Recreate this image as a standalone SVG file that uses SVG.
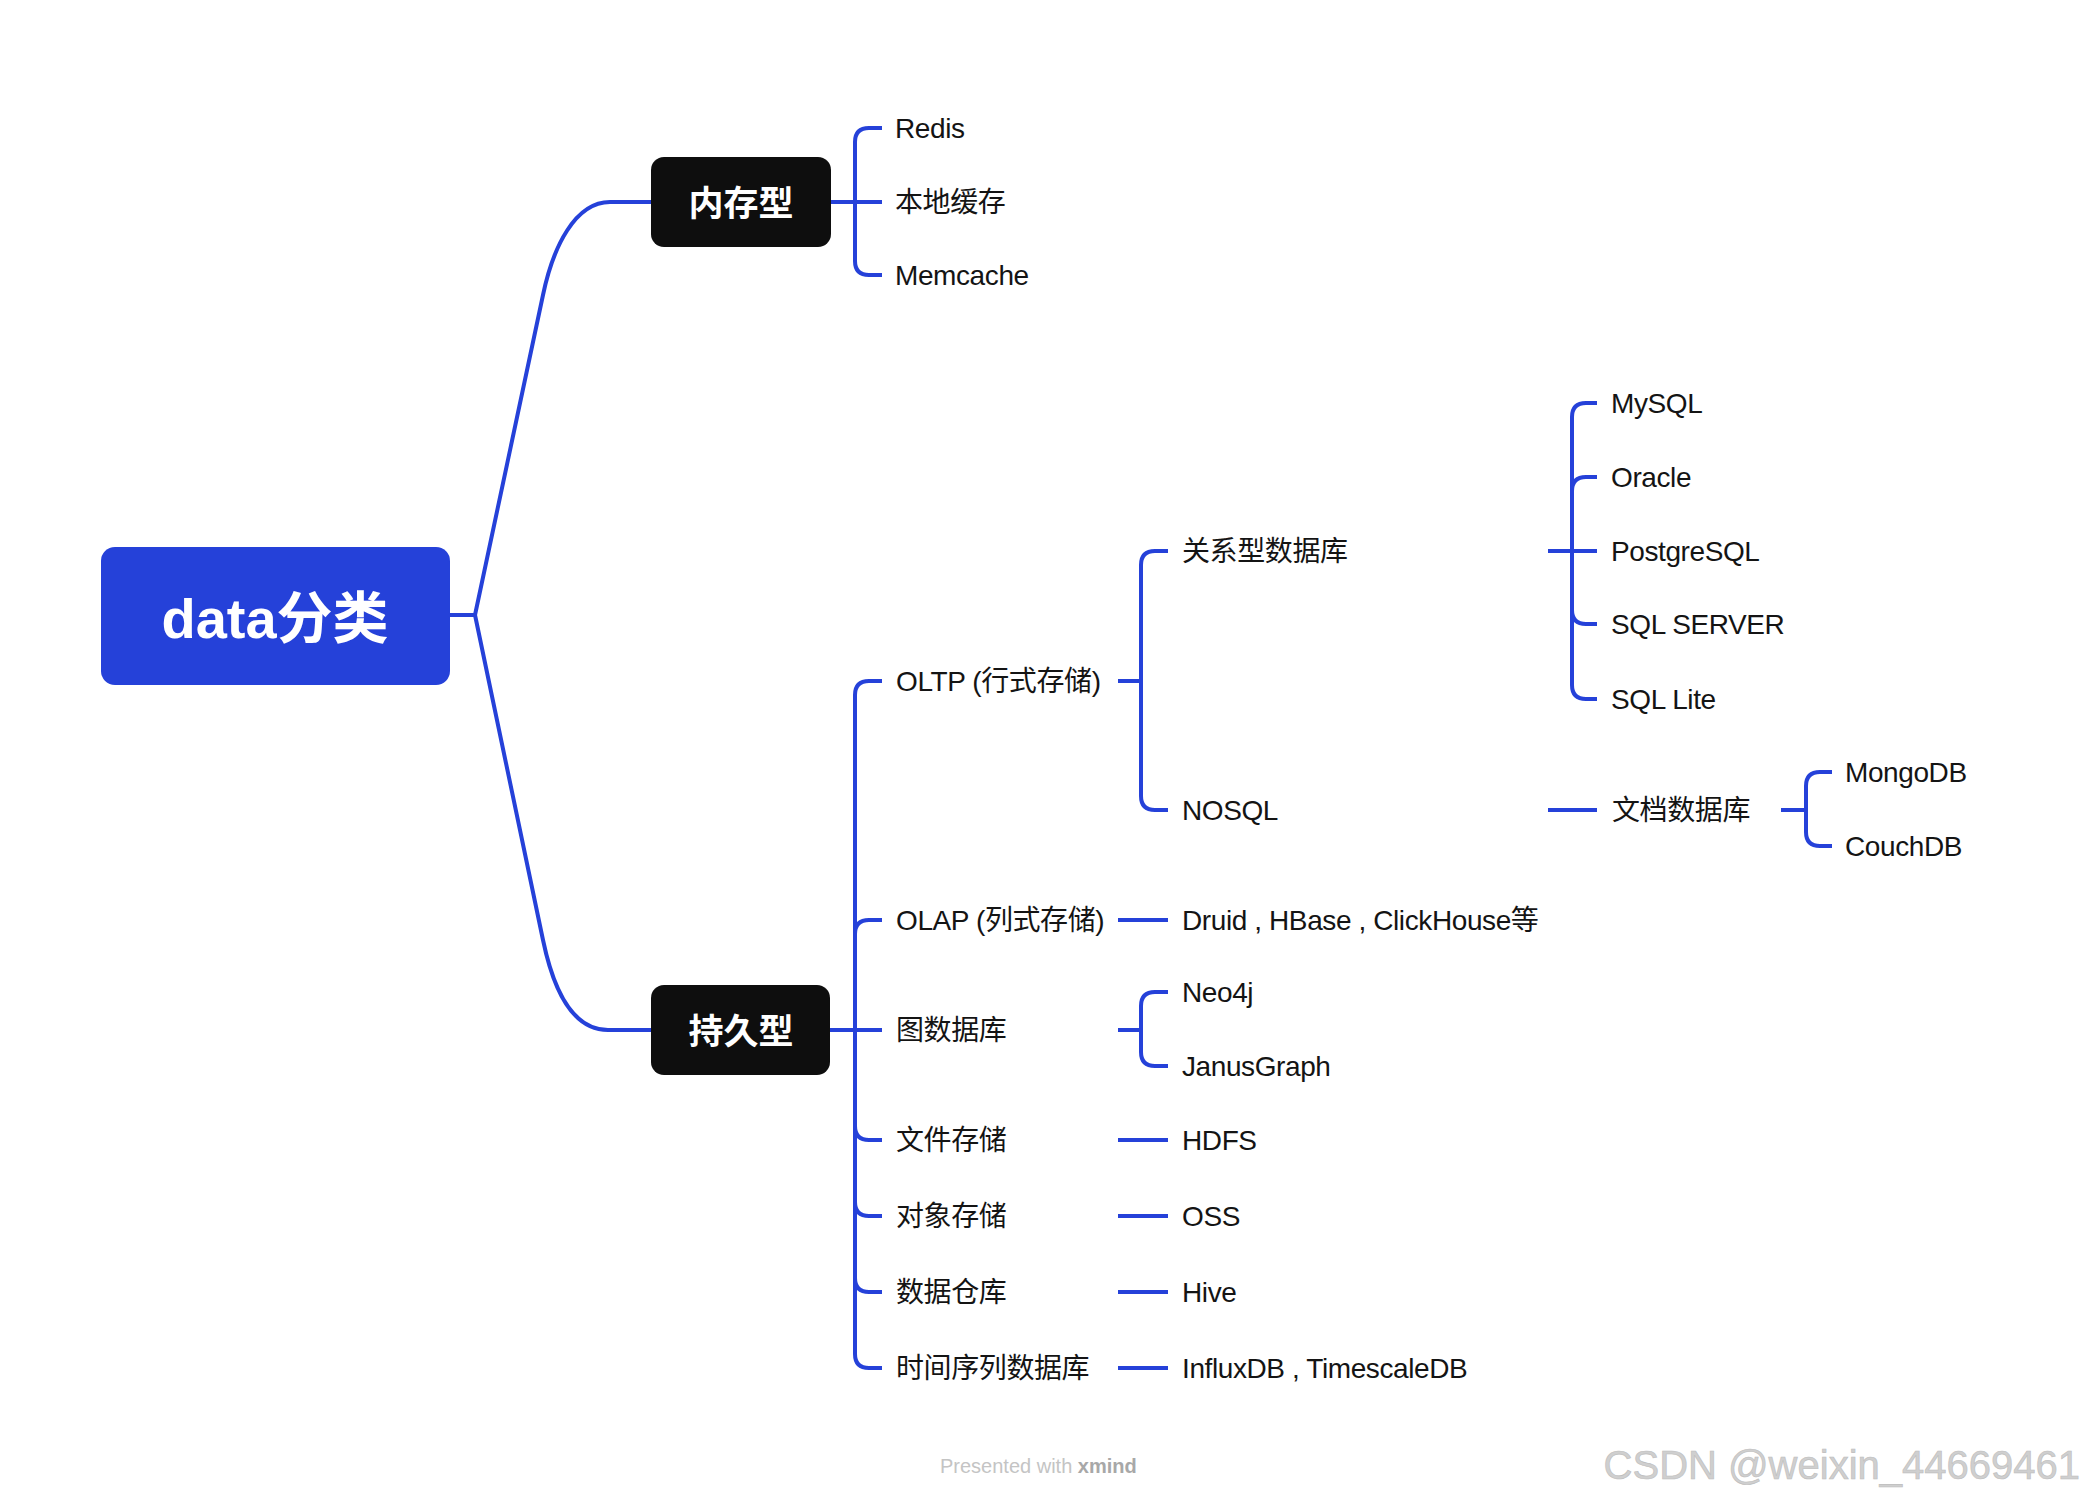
<svg xmlns="http://www.w3.org/2000/svg" width="2082" height="1500" viewBox="0 0 2082 1500">
<style>
.t{font-family:"Liberation Sans","Noto Sans CJK SC",sans-serif;font-size:28px;fill:#141414;letter-spacing:-0.4px}
.b{font-family:"Liberation Sans","Noto Sans CJK SC",sans-serif;font-weight:bold;fill:#ffffff;text-anchor:middle}
.c path{fill:none;stroke:#2541d9;stroke-width:4}
</style>
<rect width="2082" height="1500" fill="#ffffff"/>
<g class="c" id="connectors">
<path d="M450 615 L475 615"/>
<path d="M475 615 L543 295 C553 247 575 202 610 202 L651 202"/>
<path d="M475 615 L543 940 C553 988 572 1030 608 1030 L651 1030"/>
<path d="M831 202 L855 202"/>
<path d="M855 202 L855 142 Q855 128 869 128 L882 128"/>
<path d="M855 202 L882 202"/>
<path d="M855 202 L855 261 Q855 275 869 275 L882 275"/>
<path d="M830 1030 L855 1030"/>
<path d="M855 1030 L855 695 Q855 681 869 681 L882 681"/>
<path d="M855 1030 L855 934 Q855 920 869 920 L882 920"/>
<path d="M855 1030 L882 1030"/>
<path d="M855 1030 L855 1126 Q855 1140 869 1140 L882 1140"/>
<path d="M855 1030 L855 1202 Q855 1216 869 1216 L882 1216"/>
<path d="M855 1030 L855 1278 Q855 1292 869 1292 L882 1292"/>
<path d="M855 1030 L855 1354 Q855 1368 869 1368 L882 1368"/>
<path d="M1118 681 L1141 681"/>
<path d="M1141 681 L1141 565 Q1141 551 1155 551 L1168 551"/>
<path d="M1141 681 L1141 796 Q1141 810 1155 810 L1168 810"/>
<path d="M1548 551 L1572 551"/>
<path d="M1572 551 L1572 417 Q1572 403 1586 403 L1597 403"/>
<path d="M1572 551 L1572 491 Q1572 477 1586 477 L1597 477"/>
<path d="M1572 551 L1597 551"/>
<path d="M1572 551 L1572 610 Q1572 624 1586 624 L1597 624"/>
<path d="M1572 551 L1572 685 Q1572 699 1586 699 L1597 699"/>
<path d="M1548 810 L1597 810"/>
<path d="M1781 810 L1806 810"/>
<path d="M1806 810 L1806 786 Q1806 772 1820 772 L1832 772"/>
<path d="M1806 810 L1806 832 Q1806 846 1820 846 L1832 846"/>
<path d="M1118 920 L1168 920"/>
<path d="M1118 1030 L1141 1030"/>
<path d="M1141 1030 L1141 1006 Q1141 992 1155 992 L1168 992"/>
<path d="M1141 1030 L1141 1052 Q1141 1066 1155 1066 L1168 1066"/>
<path d="M1118 1140 L1168 1140"/>
<path d="M1118 1216 L1168 1216"/>
<path d="M1118 1292 L1168 1292"/>
<path d="M1118 1368 L1168 1368"/>
</g>
<g id="root"><rect x="101" y="547" width="349" height="138" rx="14" fill="#2541d9"/><text class="b" x="275" y="638" font-size="56">data分类</text></g>
<g id="memory"><rect x="651" y="157" width="180" height="90" rx="13" fill="#0e0e0e"/><text class="b" x="741" y="216" font-size="35">内存型</text></g>
<g id="persist"><rect x="651" y="985" width="179" height="90" rx="13" fill="#0e0e0e"/><text class="b" x="741" y="1044" font-size="35">持久型</text></g>
<g id="redis"><text class="t" x="895" y="138">Redis</text></g>
<g id="local"><text class="t" x="895" y="212">本地缓存</text></g>
<g id="memcache"><text class="t" x="895" y="285">Memcache</text></g>
<g id="oltp"><text class="t" x="896" y="691">OLTP (行式存储)</text></g>
<g id="olap"><text class="t" x="896" y="930">OLAP (列式存储)</text></g>
<g id="graph"><text class="t" x="896" y="1040">图数据库</text></g>
<g id="file"><text class="t" x="896" y="1150">文件存储</text></g>
<g id="object"><text class="t" x="896" y="1226">对象存储</text></g>
<g id="dw"><text class="t" x="896" y="1302">数据仓库</text></g>
<g id="ts"><text class="t" x="896" y="1378">时间序列数据库</text></g>
<g id="rdb"><text class="t" x="1182" y="561">关系型数据库</text></g>
<g id="nosql"><text class="t" x="1182" y="820">NOSQL</text></g>
<g id="druid"><text class="t" x="1182" y="930">Druid , HBase , ClickHouse等</text></g>
<g id="neo4j"><text class="t" x="1182" y="1002">Neo4j</text></g>
<g id="janus"><text class="t" x="1182" y="1076">JanusGraph</text></g>
<g id="hdfs"><text class="t" x="1182" y="1150">HDFS</text></g>
<g id="oss"><text class="t" x="1182" y="1226">OSS</text></g>
<g id="hive"><text class="t" x="1182" y="1302">Hive</text></g>
<g id="influx"><text class="t" x="1182" y="1378">InfluxDB , TimescaleDB</text></g>
<g id="mysql"><text class="t" x="1611" y="413">MySQL</text></g>
<g id="oracle"><text class="t" x="1611" y="487">Oracle</text></g>
<g id="pg"><text class="t" x="1611" y="561">PostgreSQL</text></g>
<g id="sqlserver"><text class="t" x="1611" y="634">SQL SERVER</text></g>
<g id="sqllite"><text class="t" x="1611" y="709">SQL Lite</text></g>
<g id="docdb"><text class="t" x="1612" y="820">文档数据库</text></g>
<g id="mongo"><text class="t" x="1845" y="782">MongoDB</text></g>
<g id="couch"><text class="t" x="1845" y="856">CouchDB</text></g>
<text x="940" y="1473" font-family="Liberation Sans, sans-serif" font-size="20" fill="#c4c4c4">Presented with <tspan font-weight="bold" fill="#a8a8a8">xmind</tspan></text>
<text x="2080" y="1479" text-anchor="end" font-family="Liberation Sans, sans-serif" font-size="40" fill="#cfcfcf" stroke="#bdbdbd" stroke-width="0.6">CSDN @weixin_44669461</text>
</svg>
